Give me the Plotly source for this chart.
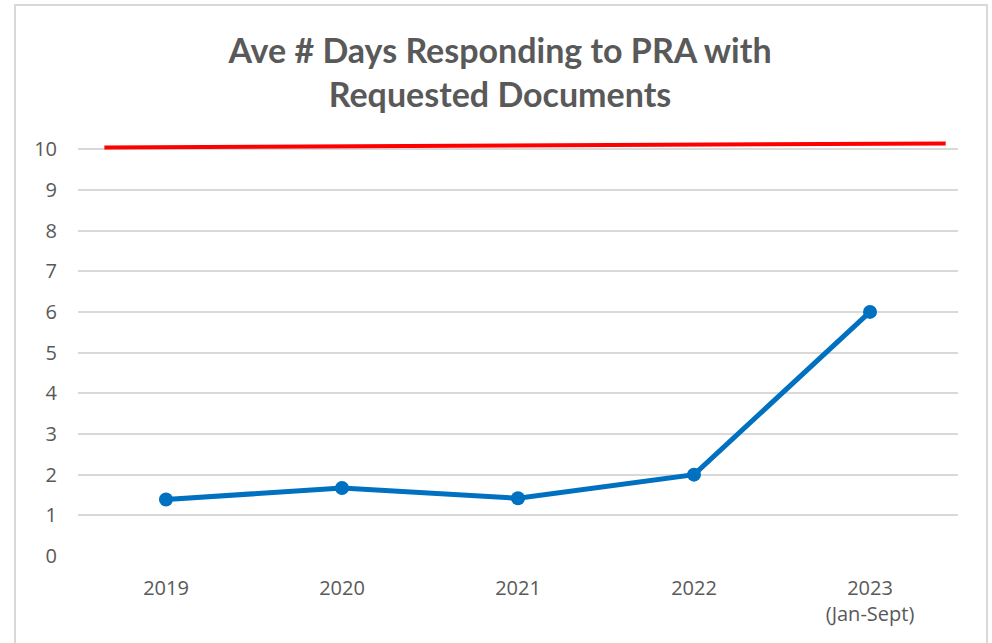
import plotly.graph_objects as go

# Data
years = ["2019", "2020", "2021", "2022", "2023<br>(Jan-Sept)"]
avg_days = [1.39, 1.67, 1.42, 2.00, 6.00]
target_x = [-0.35, 4.43]
target_y = [10.04, 10.14]
y_ticks = [0, 1, 2, 3, 4, 5, 6, 7, 8, 9, 10]

x_pos = list(range(len(years)))

fig = go.Figure()
fig.add_trace(go.Scatter(
    x=target_x, y=target_y, mode="lines",
    line=dict(color="#FF0000", width=4), showlegend=False, hoverinfo="skip",
))
fig.add_trace(go.Scatter(
    x=x_pos, y=avg_days, mode="lines+markers",
    line=dict(color="#0070C0", width=5),
    marker=dict(color="#0070C0", size=14),
    showlegend=False,
))

W, H = 992, 643
L, R, T, B = 78, 34, 141, 87
pw = W - L - R
ph = H - T - B

fig.update_layout(
    width=W, height=H,
    margin=dict(l=L, r=R, t=T, b=B, pad=0),
    paper_bgcolor="white", plot_bgcolor="white",
    title=dict(
        text="<b>Ave # Days Responding to PRA with<br>Requested Documents</b>",
        x=500 / W, xanchor="center", xref="container",
        y=1 - 63 / H, yanchor="middle", yref="container",
        font=dict(family="Lato", size=34, color="#595959"),
    ),
    font=dict(family="Open Sans", color="#595959"),
    xaxis=dict(
        range=[-0.5, 4.5], tickvals=x_pos, ticktext=years,
        showgrid=False, zeroline=False, showline=False,
        ticks="", ticklabelstandoff=18,
        tickfont=dict(family="Open Sans", size=20, color="#595959"),
    ),
    yaxis=dict(
        range=[0, 10.2], tickvals=y_ticks,
        showgrid=True, gridcolor="#D9D9D9", gridwidth=1.5,
        zeroline=False, showline=False, ticks="", ticklabelstandoff=20,
        tickfont=dict(family="Open Sans", size=20, color="#595959"),
    ),
    shapes=[dict(
        type="rect", xref="paper", yref="paper",
        x0=(15 - L) / pw, x1=(987 - L) / pw,
        y0=(556 - 660) / ph, y1=(556 - 5) / ph,
        line=dict(color="#D9D9D9", width=2), fillcolor="rgba(0,0,0,0)",
        layer="below",
    )],
)

fig.write_html("out.html", config={"displayModeBar": False},
               post_script="document.body.style.margin='0px';")
